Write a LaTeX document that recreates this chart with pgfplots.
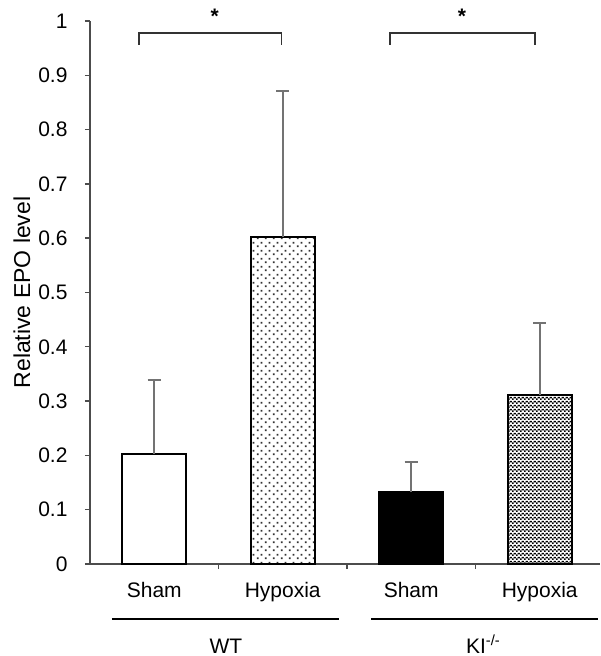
\documentclass[border=0pt]{standalone}
\usepackage{fontspec}
\setmainfont{Liberation Sans}
\usepackage{pgfplots}
\pgfplotsset{compat=1.18}
\usetikzlibrary{patterns.meta}
\newcommand{\chartfont}{\fontsize{21}{25}\selectfont}
\tikzdeclarepattern{
  name=sparsedots,
  type=colored,
  tile size={(8pt,8pt)},
  bottom left={(0pt,0pt)},
  top right={(8pt,8pt)},
  code={
    \fill[black!80] (1pt,1pt) rectangle (3pt,3pt);
    \fill[black!80] (5pt,5pt) rectangle (7pt,7pt);
  }
}
\tikzdeclarepattern{
  name=finecheck,
  type=colored,
  tile size={(4pt,4pt)},
  bottom left={(0pt,0pt)},
  top right={(4pt,4pt)},
  code={
    \fill[black] (0pt,0pt) rectangle (2pt,2pt);
    \fill[black] (2pt,2pt) rectangle (4pt,4pt);
  }
}
\begin{document}
\begin{tikzpicture}
\begin{axis}[
  at={(0pt,0pt)}, anchor=south west,
  scale only axis, width=510pt, height=543pt,
  xmin=-0.5, xmax=3.469, ymin=0, ymax=1,
  axis x line*=bottom, axis y line*=left,
  axis line style={black!70, line width=1.4pt},
  xtick={0.5,1.5,2.5}, xticklabels={},
  ytick={0,0.1,0.2,0.3,0.4,0.5,0.6,0.7,0.8,0.9,1},
  tick align=outside, major tick length=5pt,
  tick style={black!70, line width=1.4pt},
  yticklabel style={font=\chartfont, xshift=-14pt},
  /pgf/number format/assume math mode=true,
  ylabel={Relative EPO level},
  ylabel style={font=\fontsize{23}{27}\selectfont, at={(axis description cs:-0.1333,0.5)}, anchor=center},
  clip=false,
  ybar, bar width=0.5, bar shift=0pt,
  error bars/error bar style={draw=black!55, line width=2.4pt},
  error bars/error mark options={rotate=90, draw=black!55, mark size=6.5pt, line width=2.2pt},
]
\addplot[fill=white, draw=black, line width=2pt,
  error bars/.cd, y dir=plus, y explicit]
  coordinates {(0,0.2026) +- (0,0.136)};
\addplot[pattern=sparsedots, draw=black, line width=2pt,
  error bars/.cd, y dir=plus, y explicit]
  coordinates {(1,0.602) +- (0,0.269)};
\addplot[fill=black, draw=black, line width=2pt,
  error bars/.cd, y dir=plus, y explicit]
  coordinates {(2,0.1326) +- (0,0.0554)};
\addplot[pattern=finecheck, draw=black, line width=2pt,
  error bars/.cd, y dir=plus, y explicit]
  coordinates {(3,0.311) +- (0,0.133)};

% significance brackets
\draw[black!80, line width=1.4pt] (axis cs:-0.12,0.956) -- (axis cs:-0.12,0.978) -- (axis cs:0.99,0.978) -- (axis cs:0.99,0.956);
\draw[black!80, line width=1.4pt] (axis cs:1.835,0.956) -- (axis cs:1.835,0.978) -- (axis cs:2.963,0.978) -- (axis cs:2.963,0.956);
\node[font=\chartfont\bfseries, anchor=base, inner sep=0pt] at (axis cs:0.47,0.996) {*};
\node[font=\chartfont\bfseries, anchor=base, inner sep=0pt] at (axis cs:2.395,0.996) {*};

% category labels
\node[font=\chartfont, anchor=base, inner sep=0pt] at (axis cs:0,-0.0608) {Sham};
\node[font=\chartfont, anchor=base, inner sep=0pt] at (axis cs:1,-0.0608) {Hypoxia};
\node[font=\chartfont, anchor=base, inner sep=0pt] at (axis cs:2,-0.0608) {Sham};
\node[font=\chartfont, anchor=base, inner sep=0pt] at (axis cs:3,-0.0608) {Hypoxia};

% group lines and labels
\draw[black, line width=1.4pt] (axis cs:-0.329,-0.101) -- (axis cs:1.438,-0.101);
\draw[black, line width=1.4pt] (axis cs:1.687,-0.101) -- (axis cs:3.453,-0.101);
\node[font=\chartfont, anchor=base, inner sep=0pt] at (axis cs:0.558,-0.164) {WT};
\node[font=\chartfont, anchor=base, inner sep=0pt] at (axis cs:2.56,-0.164) {KI\textsuperscript{-/-}};
\end{axis}
\pgfresetboundingbox
\useasboundingbox (-90pt,-92pt) rectangle (510pt,564pt);
\end{tikzpicture}
\end{document}
